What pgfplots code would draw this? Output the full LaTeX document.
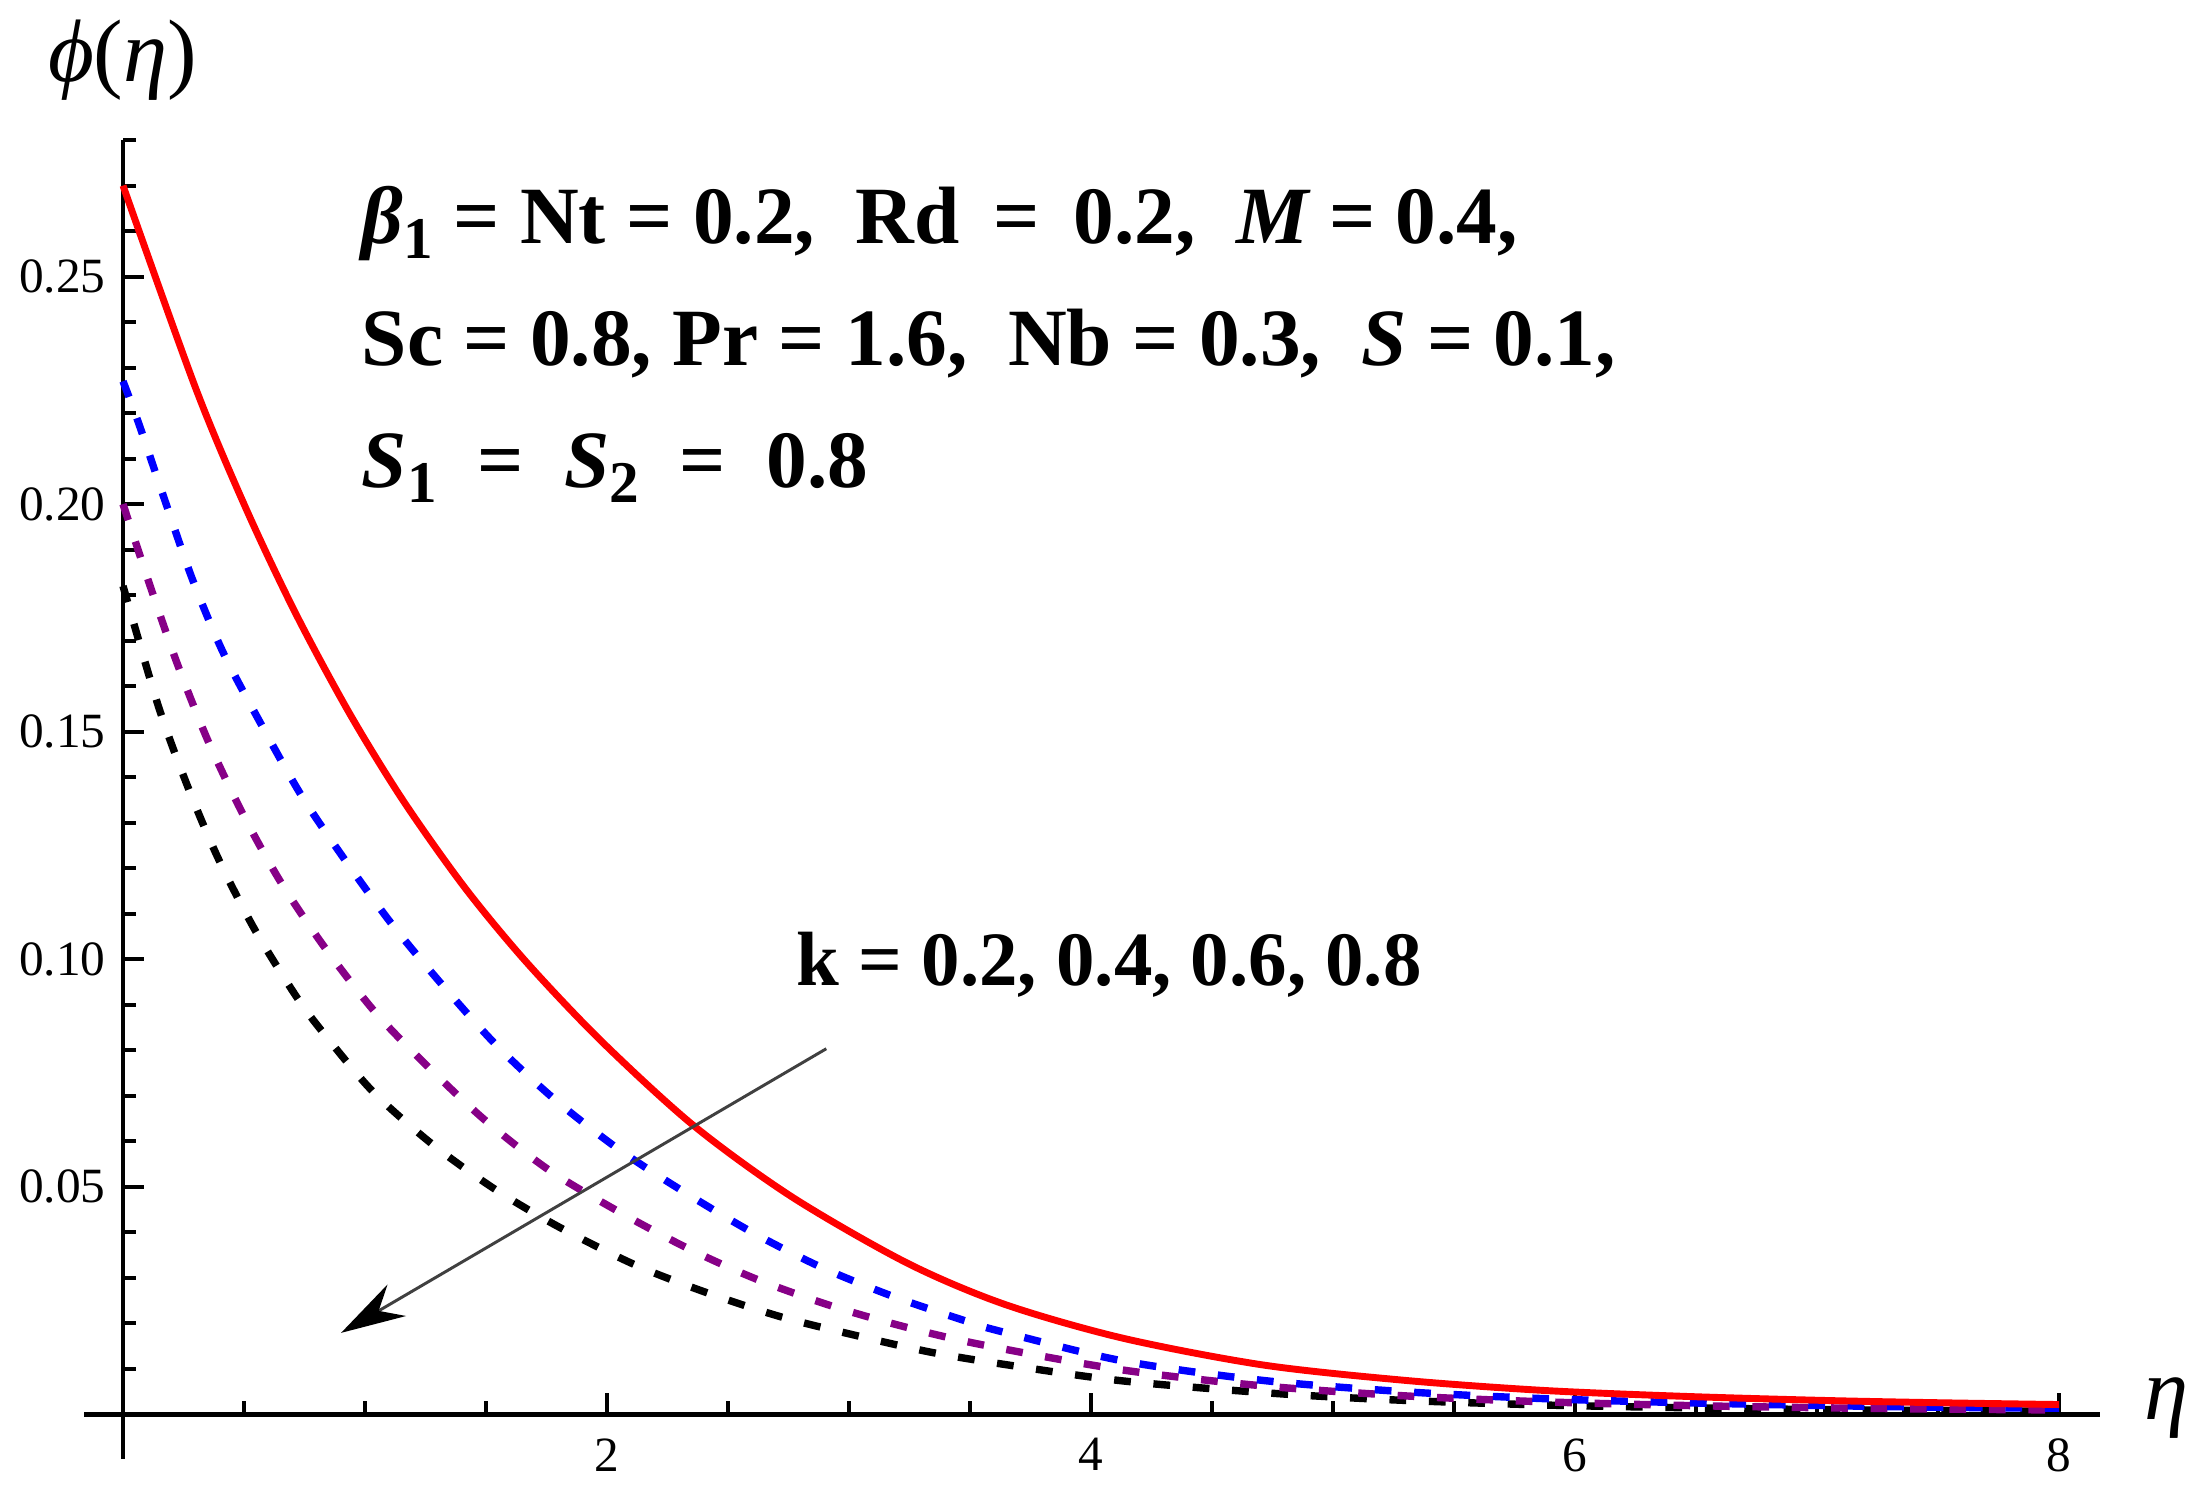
\documentclass[border=0pt]{standalone}
\usepackage{fontspec}
\setmainfont{Liberation Serif}
\usepackage{pgfplots}
\pgfplotsset{compat=1.18}
\usetikzlibrary{arrows.meta}
\definecolor{mred}{rgb}{1,0,0}
\definecolor{mblue}{rgb}{0,0,1}
\definecolor{mpurple}{rgb}{0.53,0,0.53}
\newcommand{\sub}[1]{\raisebox{-0.4ex}{\fontsize{12}{12}\selectfont #1}}

\pgfplotstableread{
eta phi
0     0.270
0.30  0.2255
0.51  0.1988
0.715 0.1758
0.936 0.1540
1.158 0.1348
1.411 0.1158
1.664 0.0995
1.976 0.0820
2.358 0.0634
2.765 0.0477
3.24  0.0332
3.644 0.0241
4.13  0.0167
4.71  0.0108
5.30  0.0074
5.87  0.0052
6.45  0.0039
7.03  0.0030
7.5   0.0025
8.0   0.0021
}\redk

\pgfplotstableread{
eta phi
0      0.227
0.0665 0.2175
0.177  0.2002
0.288  0.1833
0.4145 0.1673
0.573  0.1514
0.739  0.1358
0.921  0.1215
1.118  0.1072
1.331  0.0936
1.546  0.0809
1.785  0.0691
2.048  0.0582
2.31   0.0491
2.598  0.0400
2.884  0.0323
3.18   0.0259
3.48   0.0205
3.625  0.0182
4.13   0.0117
4.71   0.0074
5.30   0.0049
5.87   0.0034
6.45   0.0025
7.0    0.0019
7.5    0.0015
8.0    0.0013
}\bluek

\pgfplotstableread{
eta phi
0     0.200
0.114 0.1817
0.225 0.1648
0.351 0.1480
0.494 0.1320
0.652 0.1169
0.833 0.1026
1.044 0.0882
1.259 0.0764
1.498 0.0645
1.761 0.0536
2.048 0.0445
2.335 0.0364
2.62  0.0296
2.932 0.0237
3.243 0.0190
3.553 0.0152
4.13  0.0097
4.71  0.0062
5.30  0.0040
5.87  0.0027
6.45  0.0019
7.0   0.0014
7.5   0.0011
8.0   0.0009
}\purplek

\pgfplotstableread{
eta phi
0     0.182
0.146 0.1556
0.2645 0.1383
0.391 0.1224
0.541 0.1068
0.707 0.0925
0.817 0.0845
1.032 0.0709
1.283 0.0591
1.546 0.0491
1.809 0.0409
2.12  0.0327
2.406 0.0268
2.717 0.0214
3.027 0.0173
3.338 0.0136
3.644 0.0109
4.13  0.0073
4.77  0.0045
5.30  0.0030
5.87  0.0020
6.45  0.0014
7.0   0.0010
7.5   0.0008
8.0   0.0006
}\blackk

\begin{document}
\begin{tikzpicture}
\begin{axis}[
  at={(0,0)}, anchor=south west,
  scale only axis, width=14.373cm, height=9.401cm,
  xmin=-0.16, xmax=8.17, ymin=-0.0098, ymax=0.28,
  axis lines=middle,
  axis line style={-, line width=1pt, black},
  clip=false,
  xtick={2,4,6,8},
  minor xtick={0.5,1,1.5,2.5,3,3.5,4.5,5,5.5,6.5,7,7.5},
  ytick={0.05,0.10,0.15,0.20,0.25},
  minor ytick={0.01,0.02,0.03,0.04,0.06,0.07,0.08,0.09,0.11,0.12,0.13,0.14,0.16,0.17,0.18,0.19,0.21,0.22,0.23,0.24,0.26,0.27,0.28},
  tick align=inside,
  major tick length=1.5mm,
  minor tick length=0.9mm,
  every tick/.append style={black, line width=0.8pt},
  /pgf/number format/assume math mode=true,
  tick label style={font=\fontsize{10}{12}\selectfont},
  yticklabel style={/pgf/number format/.cd, fixed, fixed zerofill, precision=2},
  xticklabel style={yshift=-0.5mm},
]
\addplot[black, line width=1.5pt, dash pattern=on 3.4pt off 4.6pt, smooth] table[x=eta,y=phi] {\blackk};
\addplot[mpurple, line width=1.5pt, dash pattern=on 3.4pt off 4.6pt, smooth] table[x=eta,y=phi] {\purplek};
\addplot[mblue, line width=1.5pt, dash pattern=on 3.4pt off 4.6pt, smooth] table[x=eta,y=phi] {\bluek};
\addplot[mred, line width=1.4pt, smooth] table[x=eta,y=phi] {\redk};

\node[anchor=base west, inner sep=0, font=\fontsize{18}{20}\selectfont] at (axis cs:-0.314,0.2928) {{\itshape ϕ}({\itshape η\/})};
\node[anchor=base west, inner sep=0, font=\fontsize{18}{20}\selectfont\itshape] at (axis cs:8.348,-0.00125) {η};

\node[anchor=base west, inner sep=0, font=\fontsize{16.5}{20}\selectfont\bfseries] at (axis cs:0.983,0.2572) {{\itshape β}\sub{1} = Nt = 0.2,\ \ Rd\,\ =\,\ 0.2,\ \ {\itshape M} = 0.4,};
\node[anchor=base west, inner sep=0, font=\fontsize{16.5}{20}\selectfont\bfseries] at (axis cs:0.983,0.2304) {Sc = 0.8, Pr = 1.6,\ \ Nb = 0.3,\ \ {\itshape S} = 0.1,};
\node[anchor=base west, inner sep=0, font=\fontsize{16.5}{20}\selectfont\bfseries] at (axis cs:0.983,0.2037) {{\itshape S}\sub{1}\ \ =\ \ {\itshape S}\sub{2}\ \ =\ \ 0.8};

\node[anchor=base west, inner sep=0, font=\fontsize{15.6}{20}\selectfont\bfseries] at (axis cs:2.78,0.0943) {k = 0.2, 0.4, 0.6, 0.8};

\draw[line width=0.6pt, black!75, -{Stealth[length=4.6mm, width=2.6mm, black]}] (axis cs:2.906,0.0803) -- (axis cs:0.901,0.01785);
\end{axis}
\pgfresetboundingbox
\path[use as bounding box] (-0.601cm,-0.280cm) rectangle ++(15.6cm,10.68cm);
\end{tikzpicture}
\end{document}
